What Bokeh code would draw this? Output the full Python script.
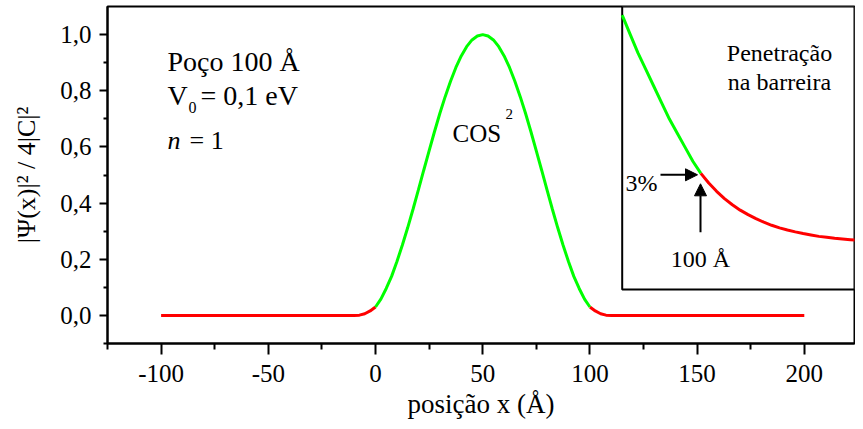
from bokeh.plotting import figure
from bokeh.models import (Range1d, FixedTicker, CustomJSTickFormatter, Label,
                          Arrow, NormalHead)
from bokeh.embed import file_html
from bokeh.resources import INLINE

# ---------------- data ----------------
# inside the well (cos^2), green
well_x = [0, 2.5, 5, 7.5, 10, 12.5, 15, 17.5, 20, 22.5, 25, 27.5, 30, 32.5, 35,
          37.5, 40, 42.5, 45, 47.5, 50, 52.5, 55, 57.5, 60, 62.5, 65, 67.5, 70,
          72.5, 75, 77.5, 80, 82.5, 85, 87.5, 90, 92.5, 95, 97.5, 100]
well_y = [0.030, 0.058, 0.096, 0.139, 0.192, 0.250, 0.312, 0.378, 0.447, 0.517,
          0.586, 0.654, 0.719, 0.779, 0.834, 0.883, 0.924, 0.957, 0.981, 0.995,
          1.000, 0.995, 0.981, 0.957, 0.924, 0.883, 0.834, 0.779, 0.719, 0.654,
          0.586, 0.517, 0.447, 0.378, 0.312, 0.250, 0.192, 0.139, 0.096, 0.058,
          0.030]
# in the barriers, red
left_x = [-100, -10, -7.5, -5, -2.5, 0]
left_y = [0.0, 0.0, 0.001, 0.006, 0.016, 0.030]
right_x = [100, 102.5, 105, 107.5, 110, 200]
right_y = [0.030, 0.016, 0.006, 0.001, 0.0, 0.0]

# inset: zoom around x = 100 A
inset_well_x = [95.0, 95.5, 96.0, 96.5, 97.0, 97.5, 98.0, 98.5, 99.0, 99.5,
                100.0]
inset_well_y = [0.097, 0.089, 0.081, 0.074, 0.067, 0.060, 0.053, 0.047, 0.041,
                0.035, 0.030]
inset_barrier_x = [100.0, 100.5, 101.0, 101.5, 102.0, 102.5, 103.0, 103.5,
                   104.0, 104.5, 105.0, 105.5, 106.0, 106.5, 107.0, 107.5,
                   108.0, 108.5, 109.0, 109.5, 110.0]
inset_barrier_y = [0.0300, 0.0259, 0.0224, 0.0193, 0.0167, 0.0144, 0.0125,
                   0.0108, 0.0093, 0.0080, 0.0069, 0.0060, 0.0052, 0.0045,
                   0.0039, 0.0033, 0.0029, 0.0025, 0.0022, 0.0019, 0.0016]

x_major = [-100, -50, 0, 50, 100, 150, 200]
x_minor = [-125, -75, -25, 25, 75, 125, 175, 225]
y_major = [0.0, 0.2, 0.4, 0.6, 0.8, 1.0]
y_minor = [-0.1, 0.1, 0.3, 0.5, 0.7, 0.9]

# ---------------- layout ----------------
FONT = "Liberation Serif"
W, H = 855, 421
FL, FR, FT, FB = 107, 854, 6, 343          # frame edges in pixels
XPX = 2.144                                # pixels per Angstrom
XMIN = -125
XMAX = XMIN + (FR - FL) / XPX
YMIN, YMAX = -0.1, 1.1


def X(px):  # pixel -> main data x
    return XMIN + (px - FL) / XPX


def Y(py):  # pixel -> main data y
    return YMIN + (FB - py) * (YMAX - YMIN) / (FB - FT)


# inset box (pixels -> main coords) and inset data ranges
BX0, BX1, BY0, BY1 = X(621.7), X(857.7), Y(289), Y(5.7)
IX0, IX1, IY0, IY1 = 95, 110, -0.0192, 0.1008


def ext(v, b0, b1, i0, i1):
    return i0 + (v - b0) * (i1 - i0) / (b1 - b0)


p = figure(width=W, height=H, x_range=Range1d(XMIN, XMAX),
           y_range=Range1d(YMIN, YMAX), output_backend="svg",
           toolbar_location=None, min_border_left=FL, min_border_right=W - FR,
           min_border_top=FT, min_border_bottom=H - FB)
p.grid.visible = False
p.outline_line_color = "black"
p.outline_line_width = 2
p.background_fill_color = "white"
p.border_fill_color = "white"

p.extra_x_ranges = {"ix": Range1d(ext(XMIN, BX0, BX1, IX0, IX1),
                                  ext(XMAX, BX0, BX1, IX0, IX1))}
p.extra_y_ranges = {"iy": Range1d(ext(YMIN, BY0, BY1, IY0, IY1),
                                  ext(YMAX, BY0, BY1, IY0, IY1))}

# axes
xa = p.xaxis[0]
xa.ticker = FixedTicker(ticks=x_major, minor_ticks=x_minor)
xa.formatter = CustomJSTickFormatter(code="return tick.toFixed(0);")
xa.axis_label = "posição x (Å)"
ya = p.yaxis[0]
ya.ticker = FixedTicker(ticks=y_major, minor_ticks=y_minor)
ya.formatter = CustomJSTickFormatter(code="return tick.toFixed(1).replace('.', ',');")
ya.axis_label = "|Ψ(x)|² / 4|C|²"
for ax in (xa, ya):
    ax.axis_line_width = 2
    ax.major_tick_line_width = 2
    ax.minor_tick_line_width = 2
    ax.major_tick_in = 0
    ax.minor_tick_in = 0
    ax.major_label_text_font = FONT
    ax.major_label_text_font_size = "25px"
    ax.major_label_text_color = "black"
    ax.axis_label_text_font = FONT
    ax.axis_label_text_font_style = "normal"
    ax.axis_label_text_color = "black"
xa.axis_label_text_font_size = "27px"
ya.axis_label_text_font_size = "26px"
xa.major_tick_out = 11
xa.minor_tick_out = 6
xa.major_label_standoff = 10
xa.axis_label_standoff = 4
ya.major_tick_out = 8
ya.minor_tick_out = 4
ya.major_label_standoff = 8
ya.axis_label_standoff = 16

# main curves
p.line(left_x, left_y, line_color="#ff0000", line_width=3)
p.line(right_x, right_y, line_color="#ff0000", line_width=3)
p.line(well_x, well_y, line_color="#00ff00", line_width=3)

# inset box + curves
p.quad(left=[BX0], right=[XMAX], bottom=[BY0], top=[YMAX],
       fill_color="white", line_color="black", line_width=2)
p.line(inset_well_x, inset_well_y, line_color="#00ff00", line_width=3,
       x_range_name="ix", y_range_name="iy")
p.line(inset_barrier_x, inset_barrier_y, line_color="#ff0000", line_width=3,
       x_range_name="ix", y_range_name="iy")


def lab(x, y, text, size="25px", align="left", style="normal", xo=0, yo=0):
    p.add_layout(Label(x=x, y=y, text=text, text_font=FONT,
                       text_font_size=size, text_align=align,
                       text_baseline="alphabetic", text_font_style=style,
                       text_color="black", x_offset=xo, y_offset=yo))


# texts in main panel
lab(X(167), Y(61), "Poço 100 Å", size="28px")
lab(X(167), Y(95), "V", size="28px")
lab(X(167), Y(95), "0", size="16px", xo=21, yo=-12)
lab(X(167), Y(95), "= 0,1 eV", size="28px", xo=33)
lab(X(167), Y(140), "n", size="26px", style="italic")
lab(X(167), Y(140), "= 1", size="26px", xo=22)
lab(X(452), Y(133), "COS")
lab(X(452), Y(133), "2", size="15px", xo=53, yo=20)

# inset texts
lab(X(779), Y(52), "Penetração", size="24px", align="center")
lab(X(779), Y(81), "na barreira", size="24px", align="center")
lab(X(657), Y(182), "3%", size="24px", align="right")
lab(X(700), Y(258), "100 Å", size="24px", align="center")

head = dict(size=12, fill_color="black", line_color="black", line_width=1)
p.add_layout(Arrow(end=NormalHead(**head), x_start=X(660), y_start=Y(174.3),
                   x_end=X(697), y_end=Y(174.3), line_width=2))
p.add_layout(Arrow(end=NormalHead(**head), x_start=X(700), y_start=Y(231.7),
                   x_end=X(700), y_end=Y(183.3), line_width=2))

open("out.html", "w").write(file_html(p, INLINE))
